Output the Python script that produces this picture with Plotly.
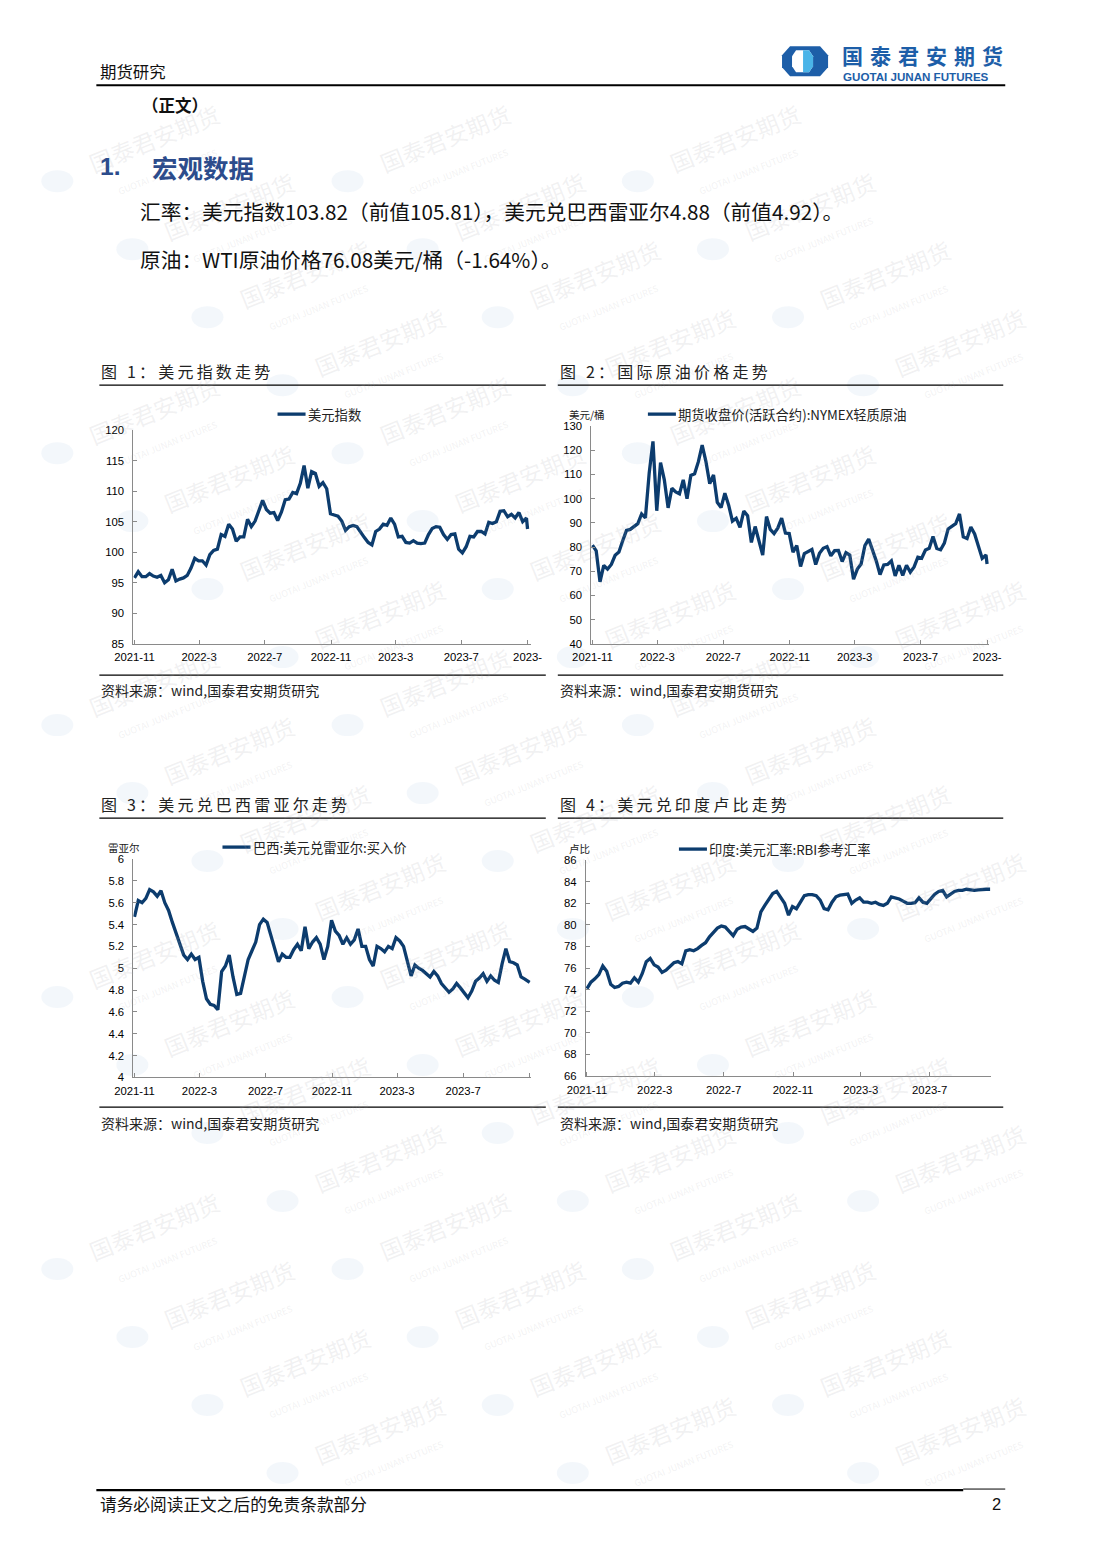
import pandas as pd
import plotly.graph_objects as go

# page is 1102 x 1559; the figure sits inside the default 8px body margin
PAGE_W, PAGE_H = 1102, 1559
OFF = 8
W, H = PAGE_W - 2 * OFF, PAGE_H - 2 * OFF
# measured mapping from page pixels to the photographed picture
A_X, B_X = 0.9705, 19.95
A_Y, B_Y = 0.9923, 5.9
CJK = "Noto Sans CJK SC"
NUM = "Liberation Sans, Arial"
LINE_COLOR = "#0c3c6e"

# ---------------- data (weekly readings from the reference) ----------------
weekly_dates = list(pd.date_range("2021-11-17", periods=105, freq="7D").strftime("%Y-%m-%d"))
dxy_dates = weekly_dates + ["2023-11-17"]
dxy_values = [
    95.8, 96.8, 96.0, 96.0, 96.5, 96.1, 95.9, 96.2, 95.0, 95.5,
    97.2, 95.3, 95.6, 95.8, 96.2, 97.4, 99.0, 98.6, 98.6, 97.9,
    99.6, 100.3, 100.5, 102.9, 102.6, 104.6, 103.8, 101.8, 102.5, 102.5,
    105.4, 104.2, 105.1, 107.0, 108.5, 107.0, 106.4, 106.5, 105.2, 106.6,
    108.6, 108.7, 109.8, 109.6, 111.3, 114.2, 110.5, 113.2, 112.9, 110.8,
    111.4, 110.4, 106.3, 106.1, 105.9, 105.1, 103.6, 104.2, 104.4, 104.2,
    103.2, 102.4, 101.6, 101.2, 103.4, 103.8, 104.6, 104.4, 105.6, 104.6,
    102.5, 102.6, 101.6, 101.5, 101.9, 101.5, 101.4, 101.5, 102.9, 103.9,
    104.2, 104.1, 102.9, 102.1, 102.9, 103.0, 100.5, 99.9, 100.9, 102.6,
    102.5, 103.4, 103.4, 103.0, 104.9, 104.7, 105.0, 106.7, 106.8, 105.8,
    106.2, 105.6, 106.5, 105.0, 105.6, 103.8,
]

wti_dates = weekly_dates + ["2023-11-17"]
wti_values = [
    80.8, 78.4, 65.6, 72.4, 70.9, 72.8, 76.6, 77.9, 82.6, 86.9,
    87.3, 88.3, 89.7, 93.7, 92.1, 110.6, 123.7, 95.0, 114.9, 107.8,
    96.2, 104.3, 102.8, 102.0, 107.8, 100.0, 109.6, 110.3, 115.3, 122.1,
    115.3, 106.2, 109.8, 98.5, 96.3, 102.3, 97.3, 90.7, 91.9, 88.1,
    94.9, 93.0, 81.9, 88.5, 82.9, 76.7, 92.6, 87.3, 85.6, 87.9,
    92.0, 85.8, 85.6, 77.9, 80.6, 72.0, 77.3, 78.3, 79.0, 72.8,
    77.4, 79.5, 80.2, 76.4, 78.5, 78.6, 74.0, 77.7, 76.7, 66.7,
    70.9, 73.0, 80.6, 83.3, 79.2, 74.3, 68.6, 72.6, 72.8, 74.3,
    68.1, 72.5, 68.3, 72.5, 69.6, 71.8, 75.8, 75.4, 78.8, 79.5,
    84.4, 79.4, 78.9, 81.6, 87.5, 88.5, 89.7, 93.7, 84.2, 83.5,
    88.3, 85.4, 80.4, 75.3, 76.7, 73.0,
]

brl_dates = weekly_dates + ["2023-11-17"]
brl_values = [
    5.47, 5.62, 5.60, 5.64, 5.72, 5.70, 5.66, 5.71, 5.60, 5.53,
    5.42, 5.32, 5.24, 5.12, 5.08, 5.13, 5.08, 5.10, 4.88, 4.72,
    4.67, 4.66, 4.62, 4.97, 5.02, 5.12, 4.92, 4.76, 4.77, 4.93,
    5.08, 5.16, 5.24, 5.40, 5.45, 5.42, 5.30, 5.18, 5.06, 5.13,
    5.10, 5.10, 5.17, 5.22, 5.16, 5.38, 5.18, 5.24, 5.28, 5.22,
    5.08, 5.20, 5.44, 5.34, 5.30, 5.22, 5.28, 5.22, 5.26, 5.36,
    5.20, 5.20, 5.08, 5.02, 5.20, 5.18, 5.15, 5.20, 5.18, 5.28,
    5.25, 5.20, 5.05, 4.93, 5.03, 5.00, 4.98, 4.95, 4.92, 4.97,
    4.93, 4.86, 4.82, 4.78, 4.81, 4.86, 4.82, 4.77, 4.73, 4.79,
    4.88, 4.91, 4.95, 4.88, 4.93, 4.89, 4.87, 5.04, 5.18, 5.06,
    5.05, 5.03, 4.92, 4.90, 4.88, 4.87,
]

inr_dates = list(pd.date_range("2021-11-17", periods=103, freq="7D").strftime("%Y-%m-%d"))
inr_values = [
    74.1, 74.7, 75.0, 75.4, 76.2, 75.7, 74.5, 74.2, 74.3, 74.6,
    74.7, 74.6, 75.1, 74.7, 75.5, 76.6, 76.9, 76.3, 76.1, 75.6,
    75.8, 76.2, 76.5, 76.6, 76.4, 77.6, 77.7, 77.6, 77.8, 78.1,
    78.35, 78.9, 79.3, 79.7, 79.9, 79.8, 79.4, 79.0, 79.6, 79.8,
    79.85, 79.6, 79.4, 79.7, 81.2, 81.8, 82.3, 82.9, 83.1, 82.6,
    82.0, 80.9, 81.7, 81.5, 82.1, 82.7, 82.8, 82.8, 82.7, 82.3,
    81.5, 81.4, 82.1, 82.6, 82.75, 82.8, 82.85, 82.0, 82.3, 82.5,
    82.1, 82.1, 82.0, 82.1, 81.9, 81.8, 82.0, 82.6, 82.5, 82.4,
    82.2, 82.0, 82.0, 82.05, 82.5, 82.1, 82.0, 82.4, 82.85, 83.1,
    83.2, 82.6, 82.85, 83.1, 83.2, 83.2, 83.3, 83.25, 83.2, 83.25,
    83.3, 83.3, 83.3,
]

tick_dates = ["2021-11-17", "2022-03-17", "2022-07-17", "2022-11-17",
              "2023-03-17", "2023-07-17", "2023-11-17"]
tick_text_a = ["2021-11", "2022-3", "2022-7", "2022-11", "2023-3", "2023-7", "2023-"]
tick_text_b = ["2021-11", "2022-3", "2022-7", "2022-11", "2023-3", "2023-7", ""]

# ---------------- helpers (picture pixel -> paper) ----------------
def px(X):
    x = (X - B_X) / A_X
    return (x - OFF) / W


def py(Y):
    y = (Y - B_Y) / A_Y
    return 1 - (y - OFF) / H


def spaced(s, sep="\u2009"):
    return sep.join(s)


def ann(x, y, text, size, color="#111111", family=CJK, xanchor="left", angle=0):
    return dict(x=px(x), y=py(y), xref="paper", yref="paper", text=text,
                showarrow=False, xanchor=xanchor, yanchor="middle", textangle=angle,
                font=dict(family=family, size=size, color=color))


def hline(x0, x1, y, width, color="#000000"):
    return dict(type="line", xref="paper", yref="paper", x0=px(x0), x1=px(x1),
                y0=py(y), y1=py(y), line=dict(color=color, width=width))


def poly(points, color):
    path = "M " + " L ".join(f"{px(a):.5f},{py(b):.5f}" for a, b in points) + " Z"
    return dict(type="path", xref="paper", yref="paper", path=path,
                fillcolor=color, line=dict(width=0))


def xaxis(d0, d1, rng, ttext, tvals, anchor):
    return dict(domain=[px(d0), px(d1)], range=rng, type="date", anchor=anchor,
                tickmode="array", tickvals=tvals, ticktext=ttext,
                showline=True, linecolor="#8a8a8a", linewidth=1,
                ticks="inside", ticklen=4, tickcolor="#8a8a8a",
                showgrid=False, zeroline=False, fixedrange=True,
                ticklabelstandoff=3,
                tickfont=dict(family=NUM, size=11.3, color="#000000"))


def yaxis(top, bottom, rng, dtick, anchor):
    return dict(domain=[py(bottom), py(top)], range=rng, dtick=dtick, tick0=rng[0],
                anchor=anchor, showline=True, linecolor="#8a8a8a", linewidth=1,
                ticks="inside", ticklen=4, tickcolor="#8a8a8a",
                showgrid=False, zeroline=False, fixedrange=True,
                ticklabelstandoff=6,
                tickfont=dict(family=NUM, size=11.3, color="#000000"))


fig = go.Figure()
line_style = dict(color=LINE_COLOR, width=3.3)
fig.add_trace(go.Scatter(x=dxy_dates, y=dxy_values, mode="lines", line=line_style,
                         xaxis="x", yaxis="y", showlegend=False, hoverinfo="skip"))
fig.add_trace(go.Scatter(x=wti_dates, y=wti_values, mode="lines", line=line_style,
                         xaxis="x2", yaxis="y2", showlegend=False, hoverinfo="skip"))
fig.add_trace(go.Scatter(x=brl_dates, y=brl_values, mode="lines", line=line_style,
                         xaxis="x3", yaxis="y3", showlegend=False, hoverinfo="skip"))
fig.add_trace(go.Scatter(x=inr_dates, y=inr_values, mode="lines", line=line_style,
                         xaxis="x4", yaxis="y4", showlegend=False, hoverinfo="skip"))

annotations = []
shapes = []

# ---------------- watermarks ----------------
for r in range(20):
    yy = 150 + r * 68
    if yy > 1460:
        continue
    off = (r % 4) * 75
    for c in range(4):
        xx = 160 + off + c * 290
        if xx > 990:
            continue
        annotations.append(dict(
            x=px(xx), y=py(yy), xref="paper", yref="paper", showarrow=False,
            text="国泰君安期货<br><span style='font-size:9px'>GUOTAI JUNAN FUTURES</span>",
            textangle=-22, xanchor="center", yanchor="middle",
            font=dict(family=CJK, size=23, color="rgba(170,170,175,0.17)")))
        shapes.append(dict(type="circle", xref="paper", yref="paper",
                           x0=px(xx - 118), x1=px(xx - 86), y0=py(yy + 42), y1=py(yy + 20),
                           fillcolor="rgba(150,180,215,0.11)", line=dict(width=0), layer="below"))

# ---------------- header ----------------
annotations.append(ann(99, 71, "期货研究", 16.4))
shapes.append(poly([(790, 46), (820, 46), (828, 55), (828, 67), (820, 76), (790, 76),
                    (782, 67), (782, 55)], "#1d5ea8"))
shapes.append(poly([(796, 50), (809, 50), (813, 56), (813, 66), (809, 72), (796, 72),
                    (792, 66), (792, 56)], "#ffffff"))
shapes.append(poly([(803, 50), (809, 50), (813, 56), (813, 66), (809, 72), (803, 72)], "#4ab4e8"))
annotations.append(ann(840, 54.5, "<b>" + spaced("国泰君安期货", "\u2004") + "</b>", 21, color="#1d5ea8"))
annotations.append(ann(841, 76, "<b>GUOTAI JUNAN FUTURES</b>", 11.6, color="#1d5ea8", family=NUM))
shapes.append(hline(97, 1005, 85, 2))
annotations.append(ann(141, 105, "<b>（正文）</b>", 16.5))

# ---------------- section heading and text ----------------
annotations.append(ann(99, 166, "<b>1.</b>", 24.5, color="#2c4c8c", family=NUM))
annotations.append(ann(151, 166, "<b>宏观数据</b>", 25.5, color="#2c4c8c"))
annotations.append(ann(139, 211, "汇率：美元指数103.82（前值105.81），美元兑巴西雷亚尔4.88（前值4.92）。", 20.7))
annotations.append(ann(139, 259, "原油：WTI原油价格76.08美元/桶（-1.64%）。", 20.7))

# ---------------- chart frames ----------------
frames = [
    (100, 546, 371, 385, 675, 690, "图 1：美元指数走势"),
    (558, 1003, 371, 385, 675, 690, "图 2：国际原油价格走势"),
    (100, 546, 804, 818, 1107, 1123, "图 3：美元兑巴西雷亚尔走势"),
    (558, 1003, 804, 818, 1107, 1123, "图 4：美元兑印度卢比走势"),
]
for x0, x1, ty, ly, by, sy, title in frames:
    annotations.append(ann(x0, ty, spaced(title), 16, color="#222222"))
    shapes.append(hline(x0, x1, ly, 1.3))
    shapes.append(hline(x0, x1, by, 1.3))
    annotations.append(ann(x0, sy, "资料来源：wind,国泰君安期货研究", 14, color="#222222"))

# legends and unit labels
legends = [
    (278, 414, "美元指数"),
    (648, 414, "期货收盘价(活跃合约):NYMEX轻质原油"),
    (223, 847, "巴西:美元兑雷亚尔:买入价"),
    (679, 849, "印度:美元汇率:RBI参考汇率"),
]
for lx, ly, txt in legends:
    shapes.append(hline(lx, lx + 28, ly, 3.3, LINE_COLOR))
    annotations.append(ann(lx + 28, ly, txt, 13.3, color="#222222"))
annotations.append(ann(567, 414, "美元/桶", 10.5, color="#222222"))
annotations.append(ann(107, 847, "雷亚尔", 10.5, color="#222222"))
annotations.append(ann(567, 848, "卢比", 10.5, color="#222222"))

# ---------------- footer ----------------
shapes.append(hline(97, 963, 1490, 2.2))
shapes.append(hline(963, 1005, 1489, 1))
annotations.append(ann(99, 1504, "请务必阅读正文之后的免责条款部分", 16.7))
annotations.append(ann(1003, 1504, "2", 16.5, family=NUM, xanchor="right"))

fig.update_layout(
    width=W, height=H, margin=dict(l=0, r=0, t=0, b=0),
    paper_bgcolor="#ffffff", plot_bgcolor="rgba(0,0,0,0)",
    showlegend=False,
    xaxis=xaxis(134, 531, ["2021-11-15", "2023-11-23"], tick_text_a, tick_dates, "y"),
    yaxis=yaxis(430, 643.7, [85, 120], 5, "x"),
    xaxis2=xaxis(591.5, 989, ["2021-11-15", "2023-11-21"], tick_text_a, tick_dates, "y2"),
    yaxis2=yaxis(426, 643.7, [40, 130], 10, "x2"),
    xaxis3=xaxis(134, 531, ["2021-11-15", "2023-11-19"], tick_text_b, tick_dates, "y3"),
    yaxis3=yaxis(859, 1077.3, [4, 6], 0.2, "x3"),
    xaxis4=xaxis(586, 991, ["2021-11-15", "2023-11-03"], tick_text_b[:6], tick_dates[:6], "y4"),
    yaxis4=yaxis(860, 1076, [66, 86], 2, "x4"),
    annotations=annotations,
    shapes=shapes,
)

fig.write_html("out.html", config={"displayModeBar": False, "staticPlot": True})
